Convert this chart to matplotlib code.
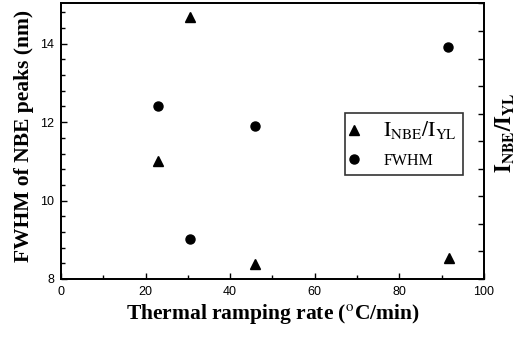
import matplotlib
matplotlib.use('Agg')
import matplotlib.pyplot as plt
from matplotlib.ticker import MultipleLocator, NullFormatter

plt.rcParams['mathtext.fontset'] = 'stix'

# FWHM of NBE peaks (left axis, nm)
fwhm_rate = [23, 30.6, 45.8, 91.6]
fwhm_nm = [12.41, 9.02, 11.91, 13.93]

# I_NBE / I_YL ratio (right axis, unlabelled scale 0-10)
ratio_rate = [23, 30.5, 45.9, 91.8]
ratio_val = [4.28, 9.5, 0.53, 0.77]

fig = plt.figure(figsize=(5.27, 3.39), dpi=100)
ax = fig.add_axes([0.1157, 0.177, 0.8027, 0.813])
ax2 = ax.twinx()

tri, = ax2.plot(ratio_rate, ratio_val, '^', color='black', markersize=6.5, linestyle='none',
                label=r'$\mathrm{I_{NBE}/I_{YL}}$')
circ, = ax.plot(fwhm_rate, fwhm_nm, 'o', color='black', markersize=6.5, linestyle='none',
                label='FWHM')

ax.set_xlim(0, 100)
ax.set_ylim(8, 15.03)
ax2.set_ylim(0, 10)

ax.xaxis.set_major_locator(MultipleLocator(20))
ax.xaxis.set_minor_locator(MultipleLocator(10))
ax.yaxis.set_major_locator(MultipleLocator(2))
ax.yaxis.set_minor_locator(MultipleLocator(0.4))
ax2.yaxis.set_major_locator(MultipleLocator(1))
ax2.yaxis.set_major_formatter(NullFormatter())

for a in (ax, ax2):
    a.tick_params(which='both', direction='in', width=1, colors='black')
    a.tick_params(which='major', length=4)
    a.tick_params(which='minor', length=3)
ax.tick_params(labelsize=9, pad=5)
for lbl in ax.get_xticklabels() + ax.get_yticklabels():
    lbl.set_fontfamily('Liberation Sans')

for s in ax.spines.values():
    s.set_linewidth(1.3)
for s in ax2.spines.values():
    s.set_linewidth(1.3)

ax.set_xlabel(r'Thermal ramping rate ($^{\mathrm{o}}$C/min)', fontsize=15.5,
              fontweight='bold', fontfamily='Liberation Serif', labelpad=3)
ax.set_ylabel('FWHM of NBE peaks (nm)', fontsize=15.5, fontweight='bold',
              fontfamily='Liberation Serif')
ax.yaxis.set_label_coords(-0.064, 0.518)
ax2.set_ylabel(r'$\mathbf{I_{NBE}/I_{YL}}$', fontsize=16)
ax2.yaxis.set_label_coords(1.022, 0.53)

leg = ax.legend(handles=[tri, circ], loc='upper left', bbox_to_anchor=(0.652, 0.633),
                frameon=True, fancybox=False, edgecolor='black', handlelength=0.4,
                handletextpad=1.6, borderpad=0.4, labelspacing=0.75,
                prop={'family': 'Liberation Serif', 'size': 11.5})
leg.get_frame().set_linewidth(1.2)
leg.get_texts()[0].set_fontsize(15.5)

fig.savefig('out.png', dpi=100)
